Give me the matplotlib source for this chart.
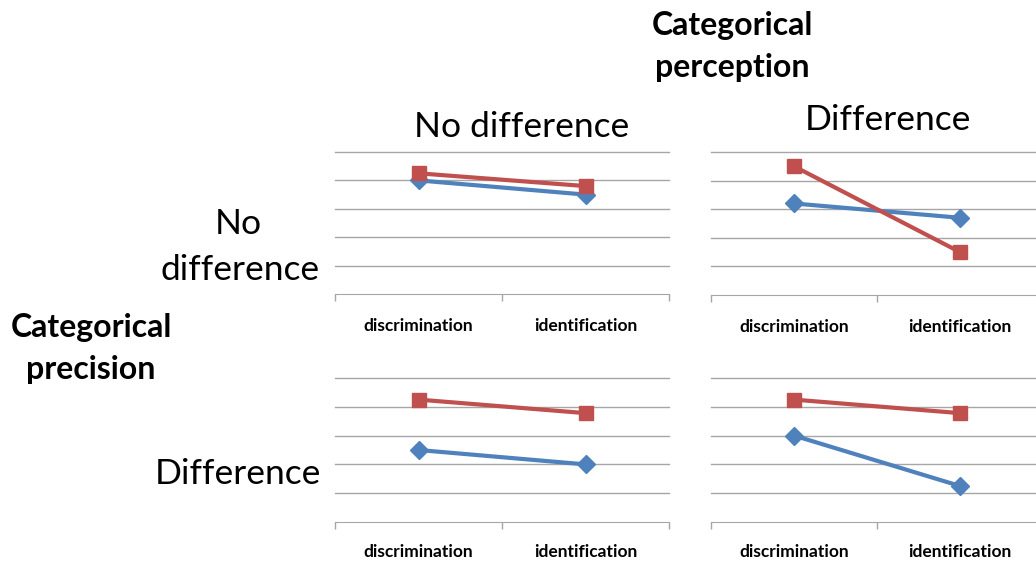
import numpy as np
import matplotlib as mpl
import matplotlib.pyplot as plt

mpl.rcParams['font.family'] = ['Lato', 'DejaVu Sans']

# data
categories = ['discrimination', 'identification']
# panels: blue / red series per panel
blue_tl = [4.0, 3.5]
red_tl = [4.25, 3.8]
blue_tr = [3.2, 2.7]
red_tr = [4.5, 1.5]
blue_bl = [2.5, 2.0]
red_bl = [4.25, 3.78]
blue_br = [3.0, 1.25]
red_br = [4.25, 3.78]

W, H = 1036, 563
fig = plt.figure(figsize=(W / 100, H / 100), dpi=100)

blue = '#4F81BD'
red = '#C0504D'
grid_c = '#a6a6a6'


def panel(px, top, bottom, b, r, pad):
    left, right = px
    ax = fig.add_axes([left / W, (H - bottom) / H, (right - left) / W, (bottom - top) / H])
    ax.set_xlim(0, 2)
    ax.set_ylim(0, 5)
    for lv in range(1, 6):
        ax.axhline(lv, color=grid_c, lw=1.0, zorder=0, clip_on=False)
    x = np.arange(len(categories)) + 0.5
    ax.plot(x, b, color=blue, lw=3.0, marker='D', ms=9, zorder=3, clip_on=False)
    ax.plot(x, r, color=red, lw=3.0, marker='s', ms=10, zorder=4, clip_on=False)
    for s in ['top', 'right', 'left']:
        ax.spines[s].set_visible(False)
    ax.spines['bottom'].set_color(grid_c)
    ax.set_yticks([])
    ax.set_xticks([0, 1, 2])
    ax.set_xticklabels([])
    ax.tick_params(axis='x', which='major', length=5, color=grid_c, width=1)
    ax.set_xticks(x, minor=True)
    ax.set_xticklabels(categories, minor=True, fontsize=12.5, fontweight='bold')
    ax.tick_params(axis='x', which='minor', length=0, pad=pad)
    return ax


panel((335, 669), 152, 294, blue_tl, red_tl, 17.5)
panel((711, 1043), 152, 295, blue_tr, red_tr, 17.5)
panel((335, 669), 378, 522, blue_bl, red_bl, 16)
panel((711, 1043), 378, 522, blue_br, red_br, 16)


def t(x, y, s, size, bold=False):
    fig.text(x / W, 1 - y / H, s, ha='center', va='center', fontsize=size,
             fontweight='bold' if bold else 'normal')


t(732, 25, 'Categorical', 23, True)
t(732, 67, 'perception', 23, True)
t(522, 127, 'No difference', 25.5)
t(888, 120, 'Difference', 25.5)
t(238, 224, 'No', 25.5)
t(240, 270, 'difference', 25.5)
t(91, 328, 'Categorical', 23, True)
t(91, 370, 'precision', 23, True)
t(238, 474, 'Difference', 25.5)

plt.savefig('out.png', dpi=100)
